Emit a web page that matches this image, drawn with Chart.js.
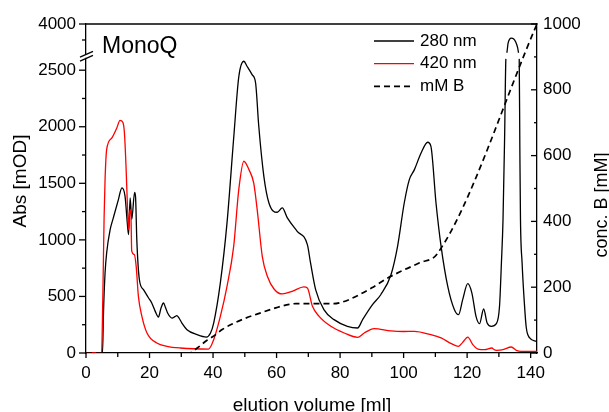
<!DOCTYPE html>
<html>
<head>
<meta charset="utf-8">
<script src="https://cdn.jsdelivr.net/npm/chart.js@4/dist/chart.umd.min.js"></script>
<style>
  html, body { margin: 0; padding: 0; background: #fff; }
  #c { display: block; }
</style>
</head>
<body>
<canvas id="c" width="609" height="412" style="width:609px;height:412px"></canvas>
<script>
// MonoQ anion-exchange run: absorbance traces and salt gradient

// 280 nm trace (elution volume in ml, absorbance in mOD)
const vol280 = [0, 5.2, 5.5, 6.0, 6.5, 7.6, 8.6, 10.2, 11.3, 12.3, 13.0, 13.4, 13.9, 14.4, 15.3, 15.6, 16.0, 16.8,
  18.1, 19.7, 20.7, 21.8, 22.8, 23.6, 24.4, 25.0, 25.7, 27.1, 28.0, 28.6, 29.2, 30.2, 31.8, 35.0, 37.9, 39.2, 40.2, 42.3, 44.4, 46.5,
  48.1, 49.7, 50.7, 52.3, 53.4, 54.4, 56.0, 57.6, 60.2, 61.8, 63.4, 66.5, 69.7, 70.7, 72.3, 74.9, 78.1, 82.3,
  85.5, 87.1, 90.2, 92.8, 96.0, 98.1, 100.2, 101.8, 103.4, 105.5, 107.6, 108.6, 110.2, 111.8, 113.9, 116.0,
  117.3, 118.6, 120.2, 121.5, 122.8, 123.9, 125.2, 126.3, 127.6, 129.2, 130.2, 130.8, 131.3, 131.8, 132.2,
  132.5, 132.9, 133.4, 133.9, 134.6, 135.3, 135.9, 136.2, 136.4, 136.6, 136.8, 137.3, 138.0, 138.6, 139.7, 141.8];
const abs280 = [0, 0, 350, 707, 884, 1090, 1194, 1356, 1460, 1385, 1150, 1046, 1370, 1180, 1420, 1380, 1000, 650,
  560, 486, 442, 368, 318, 395, 442, 405, 354, 309, 322, 330, 312, 265, 206, 162, 141, 177, 265, 620, 1150, 1900,
  2440, 2579, 2535, 2461, 2387, 2004, 1562, 1326, 1244, 1282, 1194, 1076, 958, 796, 560, 383, 295, 236,
  221, 295, 427, 515, 690, 943, 1326, 1533, 1621, 1768, 1863, 1827, 1326, 943, 589, 383,
  339, 472, 613, 530, 324, 259, 389, 265, 236, 259, 413, 800, 1179, 1900, 2600,
  3550, 3700, 3765, 3780, 3770, 3720, 3630, 3550, 2600, 1800, 1179, 800, 450, 230, 133, 103];

// 420 nm trace
const vol420 = [0, 4.9, 5.3, 5.7, 6.0, 6.5, 8.1, 9.7, 10.7, 11.6, 12.1, 12.6, 13.05, 13.4, 13.7, 14.1, 14.4, 15.2,
  15.8, 16.5, 17.6, 19.2, 22.3, 25.5, 29.7, 38.6, 40.2, 42.3, 44.4, 46.5, 48.1, 49.7, 51.3, 52.8, 53.9, 55.5,
  57.1, 59.2, 61.8, 64.9, 68.6, 69.7, 71.3, 73.4, 77.1, 81.3, 85.5, 87.6, 90.7, 96.0, 100.0, 103.4, 108.6,
  111.8, 115.0, 117.3, 118.6, 120.2, 121.8, 123.4, 125.5, 127.8, 128.5, 129.2, 131.3, 133.9, 135.5, 137.0, 142.0];
const abs420 = [0, 0, 500, 1200, 1532, 1798, 1900, 1989, 2057, 2039, 1945, 1650, 1297, 1090, 1238, 1267, 900, 870,
  766, 500, 324, 177, 88, 59, 44, 35, 118, 324, 589, 943, 1444, 1695, 1621, 1503, 1267, 855,
  678, 566, 522, 545, 584, 575, 413, 324, 236, 177, 139, 177, 216, 195, 190, 192, 162,
  133, 83, 59, 94, 141, 74, 35, 29, 44, 30, 24, 29, 53, 24, 15, 15];

// buffer B gradient (mM)
const volB = [0, 32.5, 35, 38, 40, 43, 46, 50, 55, 60, 64, 66, 78, 80, 83, 86, 90, 95, 100, 105, 110.7, 142];
const concB = [0, 0, 15, 38, 50, 72, 88, 105, 122, 138, 148, 150, 150, 153, 163, 177, 198, 228, 252, 274, 303, 1000];

// axis ticks
const volTicks = [0, 20, 40, 60, 80, 100, 120, 140];
const volMinorTicks = [10, 30, 50, 70, 90, 110, 130];
const absTicks = [0, 500, 1000, 1500, 2000, 2500, 4000];
const absMinorTicks = [250, 750, 1250, 1750, 2250, 3750];
const concTicks = [0, 200, 400, 600, 800, 1000];
const concMinorTicks = [100, 300, 500, 700, 900];

const seriesLabels = ['280 nm', '420 nm', 'mM B'];
const panelTitle = 'MonoQ';
const xTitle = 'elution volume [ml]';
const yTitle = 'Abs [mOD]';
const y2Title = 'conc. B [mM]';

// broken absorbance axis: values between BREAK_LOW and BREAK_HIGH are squeezed into a small gap
const BREAK_LOW = 2600, BREAK_HIGH = 3550;
const LOW_FRAC = 0.894, HIGH_FRAC = 0.9125;

const FONT = "'Liberation Sans', Arial, sans-serif";

class BrokenLinearScale extends Chart.LinearScale {
  _frac(v) {
    const min = this.min, max = this.max;
    if (v <= BREAK_LOW) return (v - min) / (BREAK_LOW - min) * LOW_FRAC;
    if (v >= BREAK_HIGH) return HIGH_FRAC + (v - BREAK_HIGH) / (max - BREAK_HIGH) * (1 - HIGH_FRAC);
    return LOW_FRAC + (v - BREAK_LOW) / (BREAK_HIGH - BREAK_LOW) * (HIGH_FRAC - LOW_FRAC);
  }
  getPixelForValue(v) {
    return this.bottom - this._frac(v) * (this.bottom - this.top);
  }
  getValueForPixel(p) {
    const f = (this.bottom - p) / (this.bottom - this.top);
    if (f <= LOW_FRAC) return this.min + f / LOW_FRAC * (BREAK_LOW - this.min);
    if (f >= HIGH_FRAC) return BREAK_HIGH + (f - HIGH_FRAC) / (1 - HIGH_FRAC) * (this.max - BREAK_HIGH);
    return BREAK_LOW + (f - LOW_FRAC) / (HIGH_FRAC - LOW_FRAC) * (BREAK_HIGH - BREAK_LOW);
  }
}
BrokenLinearScale.id = 'brokenLinear';
BrokenLinearScale.defaults = Chart.LinearScale.defaults;
Chart.register(BrokenLinearScale);

const toPoints = (xs, ys) => xs.map((x, i) => ({ x, y: ys[i] }));
const inBreak = (a, b) =>
  (a > BREAK_LOW && a < BREAK_HIGH) || (b > BREAK_LOW && b < BREAK_HIGH) ||
  (a <= BREAK_LOW && b >= BREAK_HIGH) || (b <= BREAK_LOW && a >= BREAK_HIGH);

const tickFont = { family: FONT, size: 17 };

// frame, tick marks, axis break, titles and legend
const framePlugin = {
  id: 'frame',
  afterDraw(chart) {
    const { ctx, chartArea: a, scales } = chart;
    const seg = (x1, y1, x2, y2) => { ctx.beginPath(); ctx.moveTo(x1, y1); ctx.lineTo(x2, y2); ctx.stroke(); };
    ctx.save();
    ctx.strokeStyle = '#000';
    ctx.lineWidth = 1.3;
    ctx.lineCap = 'butt';
    seg(a.left, a.top, a.right + 0.6, a.top);

    volTicks.forEach(v => { const x = scales.x.getPixelForValue(v); seg(x, a.bottom, x, a.bottom + 5); });
    volMinorTicks.forEach(v => { const x = scales.x.getPixelForValue(v); seg(x, a.bottom, x, a.bottom + 4); });
    absTicks.forEach(v => { const y = scales.y.getPixelForValue(v); seg(a.left - 7, y, a.left, y); });
    absMinorTicks.forEach(v => { const y = scales.y.getPixelForValue(v); seg(a.left - 4, y, a.left, y); });
    concTicks.forEach(v => { const y = scales.y2.getPixelForValue(v); seg(a.right - 6, y, a.right, y); });
    concMinorTicks.forEach(v => { const y = scales.y2.getPixelForValue(v); seg(a.right - 3, y, a.right, y); });

    // axis break marks
    const yb = (scales.y.getPixelForValue(BREAK_LOW) + scales.y.getPixelForValue(BREAK_HIGH)) / 2;
    ctx.fillStyle = '#fff';
    ctx.fillRect(a.left - 2, yb - 1.5, 4, 3.5);
    seg(a.left - 6, yb + 1.2, a.left + 7, yb - 4.5);
    seg(a.left - 6, yb + 5.2, a.left + 7, yb - 0.5);

    ctx.fillStyle = '#000';
    // panel title
    ctx.font = `23px ${FONT}`;
    ctx.textAlign = 'left';
    ctx.textBaseline = 'alphabetic';
    ctx.fillText(panelTitle, a.left + 16, a.top + 29);

    // legend
    const order = [2, 1, 0];
    ctx.font = `17px ${FONT}`;
    ctx.textBaseline = 'middle';
    order.forEach((di, row) => {
      const ds = chart.data.datasets[di];
      const y = a.top + 17 + row * 22.7;
      ctx.save();
      ctx.strokeStyle = ds.borderColor;
      ctx.lineWidth = ds.borderWidth;
      ctx.setLineDash(ds.borderDash || []);
      seg(374, y, 414, y);
      ctx.restore();
      ctx.fillText(ds.label, 420, y);
    });

    // axis titles
    ctx.font = `19px ${FONT}`;
    ctx.textAlign = 'center';
    ctx.textBaseline = 'alphabetic';
    ctx.fillText(xTitle, (a.left + a.right) / 2 + 0.5, 411);
    ctx.save();
    ctx.translate(26, 181);
    ctx.rotate(-Math.PI / 2);
    ctx.fillText(yTitle, 0, 0);
    ctx.restore();
    ctx.save();
    ctx.font = `18px ${FONT}`;
    ctx.translate(607, 205);
    ctx.rotate(-Math.PI / 2);
    ctx.fillText(y2Title, 0, 0);
    ctx.restore();
    ctx.restore();
  }
};

new Chart(document.getElementById('c').getContext('2d'), {
  type: 'line',
  data: {
    datasets: [
      { label: seriesLabels[2], data: toPoints(volB, concB), yAxisID: 'y2',
        borderColor: '#000', borderWidth: 1.7, borderDash: [6, 4] },
      { label: seriesLabels[1], data: toPoints(vol420, abs420), yAxisID: 'y',
        borderColor: '#ff0000', borderWidth: 1.3 },
      { label: seriesLabels[0], data: toPoints(vol280, abs280), yAxisID: 'y',
        borderColor: '#000', borderWidth: 1.3,
        segment: { borderColor: c => inBreak(c.p0.parsed.y, c.p1.parsed.y) ? 'rgba(0,0,0,0)' : undefined } }
    ]
  },
  options: {
    responsive: false,
    animation: false,
    devicePixelRatio: 1,
    events: [],
    layout: { padding: { top: 24, left: 0, right: 0, bottom: 0 } },
    elements: {
      point: { radius: 0 },
      line: { fill: false, cubicInterpolationMode: 'monotone' }
    },
    plugins: { legend: { display: false }, tooltip: { enabled: false }, title: { display: false } },
    scales: {
      x: {
        type: 'linear', position: 'bottom', min: 0, max: 142,
        afterBuildTicks: s => { s.ticks = volTicks.map(v => ({ value: v })); },
        afterFit: s => { s.height = 59; },
        grid: { display: false, drawTicks: false },
        border: { display: true, color: '#000', width: 1.3 },
        ticks: { color: '#000', font: tickFont, padding: 10, autoSkip: false, maxRotation: 0, callback: v => String(v) }
      },
      y: {
        type: 'brokenLinear', position: 'left', min: 0, max: 4000,
        afterBuildTicks: s => { s.ticks = absTicks.map(v => ({ value: v })); },
        afterFit: s => { s.width = 86; },
        grid: { display: false, drawTicks: false },
        border: { display: true, color: '#000', width: 1.3 },
        ticks: { color: '#000', font: tickFont, padding: 10, autoSkip: false, callback: v => String(v) }
      },
      y2: {
        type: 'linear', position: 'right', min: 0, max: 1000,
        afterBuildTicks: s => { s.ticks = concTicks.map(v => ({ value: v })); },
        afterFit: s => { s.width = 72; },
        grid: { display: false, drawTicks: false },
        border: { display: true, color: '#000', width: 1.3 },
        ticks: { color: '#000', font: tickFont, padding: 6, autoSkip: false, callback: v => String(v) }
      }
    }
  },
  plugins: [framePlugin]
});
</script>
</body>
</html>
